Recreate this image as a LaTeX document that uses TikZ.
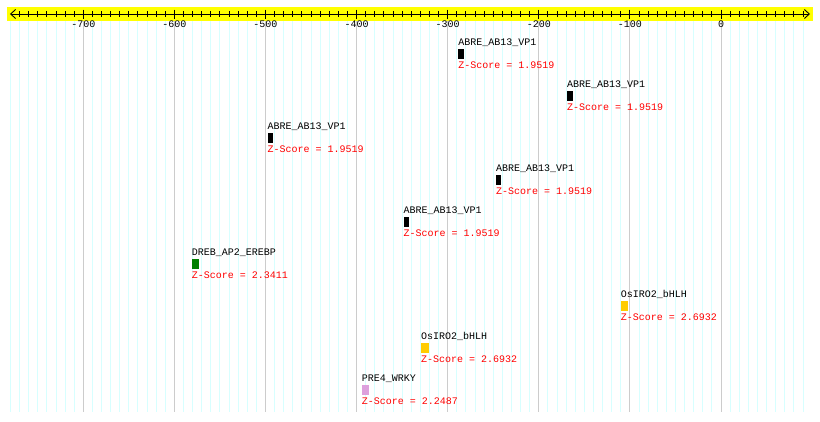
\documentclass[tikz,border=0pt]{standalone}
\usepackage{fontspec}
\setmonofont{Liberation Mono}
\usetikzlibrary{arrows.meta,positioning}
\definecolor{mapband}{RGB}{255,255,0}
\definecolor{mapgrid}{RGB}{215,255,255}
\definecolor{mapmajor}{RGB}{204,204,204}
\definecolor{mapscore}{RGB}{255,0,0}
\definecolor{abre}{RGB}{0,0,0}
\definecolor{dreb}{RGB}{0,128,0}
\definecolor{osiro}{RGB}{255,204,0}
\definecolor{wrky}{RGB}{221,160,221}
\tikzset{
  site/.style={draw=none, inner sep=0pt, minimum height=10pt, anchor=north west},
  narrow/.style={site, minimum width=5.3pt},
  wide/.style={site, minimum width=7.5pt},
  sitename/.style={inner sep=0pt, font=\fontsize{10}{12}\selectfont\ttfamily},
  score/.style={sitename, text=mapscore},
  ticklab/.style={sitename, anchor=base},
  axis/.style={{Straight Barb[length=5pt,width=9pt]}-{Straight Barb[length=5pt,width=9pt]}, line width=0.9pt},
  tick/.style={line width=0.9pt},
  gridline/.style={draw=mapgrid, line width=0.9pt},
  majorline/.style={draw=mapmajor, line width=0.9pt}
}

\begin{document}
\begin{tikzpicture}[x=0.911pt, y=-1pt]
  \useasboundingbox (-791.43,0) rectangle (108.67,421);
  % grid
  \foreach \u in {-780,-770,...,90}
    \draw[gridline] (\u,21) -- (\u,412);
  \foreach \u in {-700,-600,...,0}
    \draw[majorline] (\u,21) -- (\u,412);
  % axis
  \fill[mapband] (-783.8,7) rectangle (101,21);
  \draw[axis] (-780.5,14) -- (97.7,14);
  \foreach \u in {-770,-760,...,90}
    \draw[tick] (\u,11) -- (\u,17);
  \foreach \u in {-700,-600,...,0} {
    \draw[tick] (\u,9.5) -- (\u,18.5);
    \node[ticklab] (t\u) at (\u,27.5) {\u};
  }

  % sites
  \node[narrow, fill=abre] (abre1) at (-288.4,49) {};
  \node[sitename, above=3.5pt of abre1.north west, anchor=base west] (abre1n) {ABRE\_AB13\_VP1};
  \node[score, below=9.5pt of abre1.south west, anchor=base west] (abre1z) {Z-Score = 1.9519};

  \node[narrow, fill=abre] (abre2) at (-169,91) {};
  \node[sitename, above=3.5pt of abre2.north west, anchor=base west] (abre2n) {ABRE\_AB13\_VP1};
  \node[score, below=9.5pt of abre2.south west, anchor=base west] (abre2z) {Z-Score = 1.9519};

  \node[narrow, fill=abre] (abre3) at (-498,133) {};
  \node[sitename, above=3.5pt of abre3.north west, anchor=base west] (abre3n) {ABRE\_AB13\_VP1};
  \node[score, below=9.5pt of abre3.south west, anchor=base west] (abre3z) {Z-Score = 1.9519};

  \node[narrow, fill=abre] (abre4) at (-247,175) {};
  \node[sitename, above=3.5pt of abre4.north west, anchor=base west] (abre4n) {ABRE\_AB13\_VP1};
  \node[score, below=9.5pt of abre4.south west, anchor=base west] (abre4z) {Z-Score = 1.9519};

  \node[narrow, fill=abre] (abre5) at (-348.7,217) {};
  \node[sitename, above=3.5pt of abre5.north west, anchor=base west] (abre5n) {ABRE\_AB13\_VP1};
  \node[score, below=9.5pt of abre5.south west, anchor=base west] (abre5z) {Z-Score = 1.9519};

  \node[wide, fill=dreb] (dreb) at (-581,259) {};
  \node[sitename, above=3.5pt of dreb.north west, anchor=base west] (drebn) {DREB\_AP2\_EREBP};
  \node[score, below=9.5pt of dreb.south west, anchor=base west] (drebz) {Z-Score = 2.3411};

  \node[wide, fill=osiro] (osiro1) at (-110,301) {};
  \node[sitename, above=3.5pt of osiro1.north west, anchor=base west] (osiro1n) {OsIRO2\_bHLH};
  \node[score, below=9.5pt of osiro1.south west, anchor=base west] (osiro1z) {Z-Score = 2.6932};

  \node[wide, fill=osiro] (osiro2) at (-329.3,343) {};
  \node[sitename, above=3.5pt of osiro2.north west, anchor=base west] (osiro2n) {OsIRO2\_bHLH};
  \node[score, below=9.5pt of osiro2.south west, anchor=base west] (osiro2z) {Z-Score = 2.6932};

  \node[wide, fill=wrky] (pre4) at (-394.4,385) {};
  \node[sitename, above=3.5pt of pre4.north west, anchor=base west] (pre4n) {PRE4\_WRKY};
  \node[score, below=9.5pt of pre4.south west, anchor=base west] (pre4z) {Z-Score = 2.2487};
\end{tikzpicture}
\end{document}
